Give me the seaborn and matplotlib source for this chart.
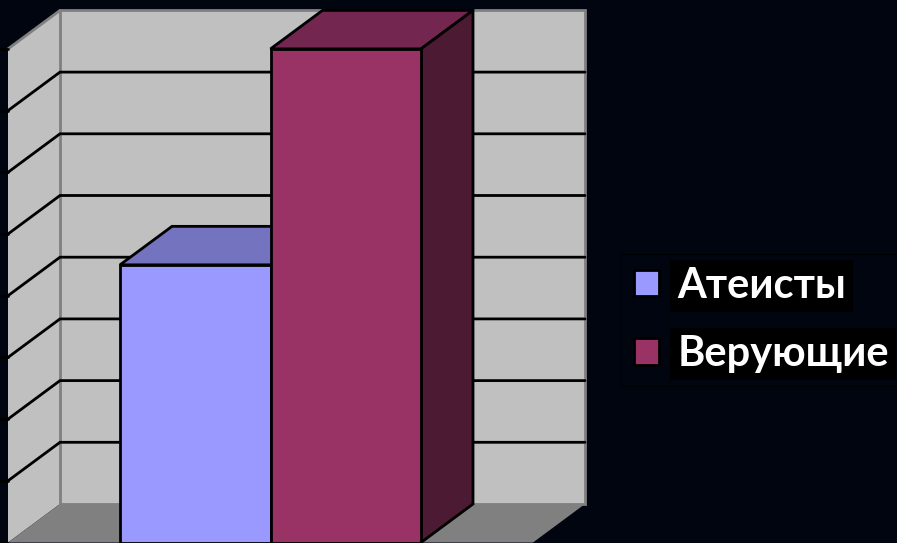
import matplotlib
matplotlib.use("Agg")
import matplotlib.pyplot as plt
import seaborn as sns
from matplotlib.patches import Polygon

categories = ["Атеисты", "Верующие"]
values = [4.5, 8]
bar_colors = ["#9999ff", "#993366"]
top_colors = ["#7373bf", "#732650"]
side_colors = ["#4c4c80", "#4c1a33"]
grid_levels = [0, 1, 2, 3, 4, 5, 6, 7, 8]

BG = "#000510"
WALL = "#c0c0c0"
FLOOR = "#808080"

sns.set_theme(style="white")
plt.rcParams["font.family"] = ["Lato", "DejaVu Sans"]

fig = plt.figure(figsize=(8.97, 5.43), dpi=100, facecolor=BG)
ax = fig.add_axes([0, 0, 1, 1])

sns.barplot(x=categories, y=values, hue=categories, palette=bar_colors, saturation=1,
            width=1, edgecolor="black", linewidth=2, legend=False, zorder=5, ax=ax)

# pixels -> data, the bars sit on the front plane of the 3d box
px_x = 150.5
px_y = 61.7
xmin = -0.5 - 120 / px_x
ax.set_xlim(xmin, xmin + 897 / px_x)
ax.set_ylim(-0.5 / px_y, 542.5 / px_y)
ax.axis("off")

dx = 52 / px_x
dy = 38.5 / px_y
x0 = xmin + 8 / px_x
x1 = xmin + 533 / px_x
top = max(grid_levels)

# walls and floor
ax.add_patch(Polygon([(x0 + dx, dy), (x1 + dx, dy), (x1 + dx, top + dy), (x0 + dx, top + dy)],
                     fc=WALL, ec=FLOOR, lw=2, zorder=1.2))
ax.add_patch(Polygon([(x0, 0), (x0 + dx, dy), (x0 + dx, top + dy), (x0, top)],
                     fc=WALL, ec="none", zorder=1))
ax.plot([x0, x0 + dx], [top, top + dy], color=FLOOR, lw=2, zorder=1.3)
ax.add_patch(Polygon([(x0, 0), (x0 + dx, dy), (x1 + dx, dy), (x1, 0)],
                     fc=FLOOR, ec="none", zorder=1.5))

# gridlines, floor and ceiling level have none
for lev in grid_levels[1:-1]:
    ax.plot([x0, x0 + dx, x1 + dx], [lev, lev + dy, lev + dy], color="black", lw=2,
            solid_joinstyle="miter", zorder=2)
for lev in grid_levels:
    ax.plot([xmin, x0], [lev, lev], color="black", lw=2, zorder=2)

# 3d faces of the bars
for bar, c_top, c_side in zip(ax.patches, top_colors, side_colors):
    left, right, h = bar.get_x(), bar.get_x() + bar.get_width(), bar.get_height()
    ax.add_patch(Polygon([(left, h), (left + dx, h + dy), (right + dx, h + dy), (right, h)],
                         fc=c_top, ec="black", lw=2, zorder=4))
    ax.add_patch(Polygon([(right, 0), (right + dx, dy), (right + dx, h + dy), (right, h)],
                         fc=c_side, ec="black", lw=2, zorder=4))

leg = ax.legend(ax.patches[:2], categories, loc="center left",
                bbox_to_anchor=(621 / 897, 1 - 320 / 543), frameon=True, facecolor="none",
                edgecolor="black", fancybox=False, framealpha=None, labelcolor="white",
                prop={"weight": "bold", "size": 30}, handlelength=0.6, handleheight=0.6,
                handletextpad=0.45, labelspacing=0.73, borderpad=0.3, borderaxespad=0)
for t in leg.get_texts():
    t.set_bbox(dict(facecolor="black", edgecolor="none", pad=5))

fig.savefig("out.png", dpi=100, facecolor=BG)
